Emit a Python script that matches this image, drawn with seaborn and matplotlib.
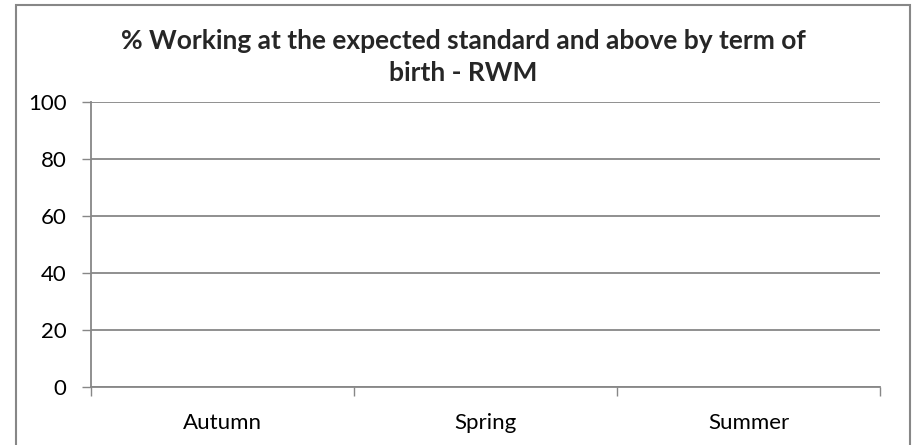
import matplotlib
matplotlib.use("Agg")
import matplotlib.pyplot as plt
import matplotlib.patches as mpatches
import seaborn as sns
import pandas as pd

# data (chart shows no visible bars)
terms = ["Autumn", "Spring", "Summer"]
pct_expected = [0, 0, 0]
y_ticks = [0, 20, 40, 60, 80, 100]

title = "% Working at the expected standard and above by term of\nbirth - RWM"

sns.set_theme(style="white")
plt.rcParams["font.family"] = ["Lato", "DejaVu Sans"]

grey = "#878787"

fig = plt.figure(figsize=(9.17, 4.45), dpi=100)
ax = fig.add_axes([91 / 917, 1 - 387 / 445, (880 - 91) / 917, (387 - 102) / 445])

df = pd.DataFrame({"term": terms, "pct": pct_expected})
sns.barplot(data=df, x="term", y="pct", color="#4F81BD", linewidth=0, ax=ax)

ax.set_ylim(0, 100)
ax.set_xlim(-0.5, 2.5)
ax.set_yticks(y_ticks)
ax.set_xticks(range(len(terms)))
ax.set_xticklabels(terms)
ax.set_xticks([-0.5, 0.5, 1.5, 2.5], minor=True)
ax.set_xlabel("")
ax.set_ylabel("")

ax.yaxis.grid(True, color=grey, linewidth=1.3)
ax.set_axisbelow(True)
for side in ["top", "right"]:
    ax.spines[side].set_visible(False)
for side in ["left", "bottom"]:
    ax.spines[side].set_color(grey)
    ax.spines[side].set_linewidth(1.3)

ax.tick_params(axis="y", which="major", left=True, length=6.5, width=1, color=grey,
               pad=11, labelsize=16, labelcolor="black")
ax.tick_params(axis="x", which="major", bottom=False, length=0, pad=19,
               labelsize=16, labelcolor="black")
ax.tick_params(axis="x", which="minor", bottom=True, length=6.5, width=1, color=grey)

fig.text(463 / 917, 1 - 29 / 445, title, ha="center", va="top", fontsize=19,
         fontweight="bold", linespacing=1.42)

# outer chart border
fig.patches.append(mpatches.Rectangle((16 / 917, -0.01), (910 - 16) / 917, 1 - 5 / 445 + 0.01,
                                      transform=fig.transFigure, fill=False,
                                      edgecolor=grey, linewidth=1.5))

fig.savefig("out.png", dpi=100)
